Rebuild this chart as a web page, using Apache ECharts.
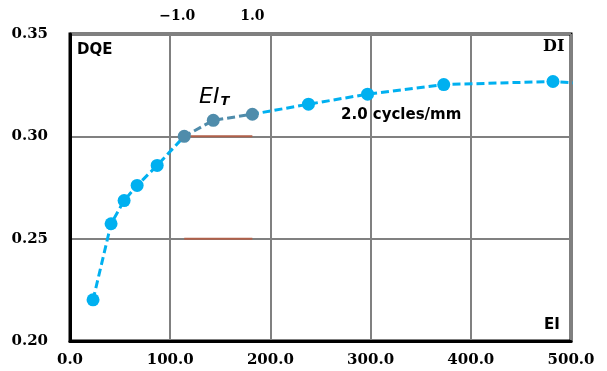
<!DOCTYPE html>
<html>
<head>
<meta charset="utf-8">
<script src="https://cdn.jsdelivr.net/npm/echarts@6/dist/echarts.min.js"></script>
<style>
  html, body { margin: 0; padding: 0; background: #fff; }
  #main { width: 607px; height: 371px; }
</style>
</head>
<body>
<div id="main"></div>
<script>
// values
const eiValues = [23, 41, 54, 67, 87, 114, 143, 182, 238, 297, 373, 482, 560];
const dqeValues = [0.2201, 0.2573, 0.2686, 0.2760, 0.2858, 0.3000, 0.3078, 0.3108, 0.3157, 0.3206, 0.3253, 0.3268, 0.3245];
const yTicks = [0.20, 0.25, 0.30, 0.35];
const xTicks = [0, 100, 200, 300, 400, 500];
const topTickValues = [107, 182];
const topTickLabels = ['\u22121.0', '1.0'];
const refLineX = [114, 182];
const refLineY = [0.30, 0.25];
const dimRange = [114, 182];

const serif = '"DejaVu Serif", "Liberation Serif", serif';
const sans = '"DejaVu Sans", "Liberation Sans", sans-serif';

let myChart = echarts.init(document.getElementById('main'));

const refSeries = refLineY.map(y => ({
  type: 'line',
  data: refLineX.map(x => [x, y]),
  symbol: 'none',
  lineStyle: { color: '#b0604a', width: 2 },
  z: 2,
  silent: true
}));

myChart.setOption({
  animation: false,
  grid: {
    left: 70, right: 36, top: 34, bottom: 30,
    show: true, borderColor: '#000', borderWidth: 3
  },
  visualMap: {
    type: 'piecewise', show: false, dimension: 0, seriesIndex: 0,
    pieces: [
      { lt: dimRange[0], color: '#00b0f0' },
      { gte: dimRange[0], lte: dimRange[1], color: '#4f8cab' },
      { gt: dimRange[1], color: '#00b0f0' }
    ]
  },
  xAxis: [
    {
      type: 'value', min: xTicks[0], max: xTicks[xTicks.length - 1], interval: 100,
      axisLine: { show: true, lineStyle: { color: '#000', width: 3 } },
      axisTick: { show: false },
      splitLine: { show: true, lineStyle: { color: '#808080', width: 2 } },
      axisLabel: {
        margin: 12, fontFamily: serif, fontWeight: 'bold', fontSize: 15, color: '#000',
        formatter: v => v.toFixed(1)
      }
    },
    {
      type: 'value', position: 'top', min: xTicks[0], max: xTicks[xTicks.length - 1],
      axisLine: { show: false },
      axisTick: { show: false },
      splitLine: { show: false },
      axisLabel: {
        margin: 11, fontFamily: serif, fontWeight: 'bold', fontSize: 14, color: '#000',
        customValues: topTickValues,
        formatter: v => topTickLabels[topTickValues.indexOf(v)] || ''
      }
    }
  ],
  yAxis: {
    type: 'value', min: yTicks[0], max: yTicks[yTicks.length - 1], interval: 0.05,
    axisLine: { show: true, lineStyle: { color: '#000', width: 3 } },
    axisTick: { show: false },
    splitLine: { show: true, lineStyle: { color: '#808080', width: 2 } },
    axisLabel: {
      margin: 22, fontFamily: serif, fontWeight: 'bold', fontSize: 15, color: '#000',
      formatter: v => v.toFixed(2)
    }
  },
  series: [
    {
      type: 'line',
      data: eiValues.map((x, i) => [x, dqeValues[i]]),
      symbol: 'circle', symbolSize: 13,
      lineStyle: { type: [8, 4], width: 3 },
      clip: true,
      z: 3
    },
    ...refSeries
  ],
  graphic: [
    { type: 'text', left: 77, top: 43, style: { text: 'DQE', font: 'bold 15px ' + sans, fill: '#000' } },
    { type: 'text', left: 543, top: 39, style: { text: 'DI', font: 'bold 16px ' + serif, fill: '#000' } },
    { type: 'text', left: 544, top: 318, style: { text: 'EI', font: 'bold 15px ' + sans, fill: '#000' } },
    { type: 'text', left: 341, top: 108, style: { text: '2.0 cycles/mm', font: 'bold 15px ' + sans, fill: '#000' } },
    {
      type: 'text', left: 199, top: 86,
      style: {
        text: '{a|EI}{b|T}',
        fill: '#000',
        textShadowColor: '#b5705c', textShadowBlur: 0, textShadowOffsetX: 1, textShadowOffsetY: 1,
        rich: {
          a: { font: 'italic 22px ' + sans, fill: '#000' },
          b: { font: 'italic bold 13px ' + sans, fill: '#000', padding: [10, 0, 0, 1] }
        }
      }
    }
  ]
});
</script>
</body>
</html>
